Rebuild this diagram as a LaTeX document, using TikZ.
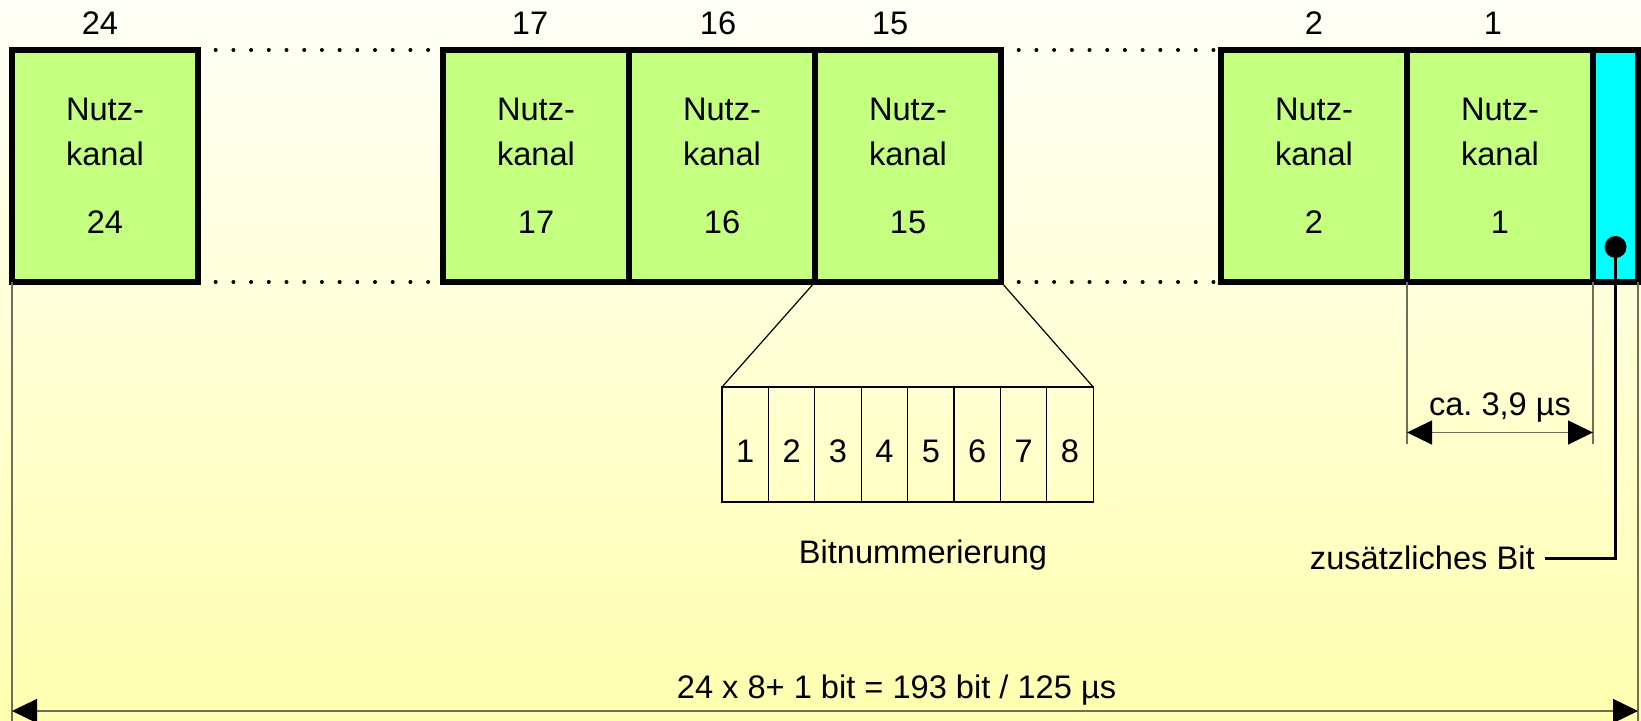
\documentclass[tikz,border=0pt]{standalone}
\usepackage{fontspec}
\setmainfont{Liberation Sans}
\usepackage{tikz}
\usetikzlibrary{arrows.meta, positioning}
\definecolor{kanalgreen}{HTML}{C4FF80}
\definecolor{bitcyan}{HTML}{00FFFF}
\definecolor{bgtop}{HTML}{FFFFF8}
\definecolor{bgbottom}{HTML}{FFFFB0}
\definecolor{dimgray}{HTML}{6E6E5A}
\frenchspacing

\begin{document}
\begin{tikzpicture}[
    x=0.5pt, y=-0.5pt,
    >={Triangle[length=12.5pt, width=12pt, color=black]},
    every node/.style={font=\fontsize{16.3}{22.5}\selectfont},
    kanal/.style={draw, line width=2.6pt, fill=kanalgreen, outer sep=0pt,
                  minimum width=93pt, minimum height=116pt, align=center},
    nr/.style={inner sep=0pt, anchor=base},
    bitbox/.style={draw, line width=0.6pt, minimum width=23.2pt,
                   minimum height=57.5pt, text height=18pt, text depth=0pt,
                   inner sep=0pt, outer sep=0pt},
    dots/.style={line width=2pt, line cap=round,
                 dash pattern=on 0pt off 8.85pt},
    dimline/.style={draw=dimgray, line width=0.6pt}
  ]
    % background
    \shade[top color=bgtop, bottom color=bgbottom] (0,0) rectangle (1641,721);
    \useasboundingbox (0,0) rectangle (1641,721);

    % channel frame
    \node[kanal] (k24) at (105,166)  {Nutz-\\kanal\\[11.5pt]24};
    \node[kanal] (k17) at (536,166)  {Nutz-\\kanal\\[11.5pt]17};
    \node[kanal] (k16) at (722,166)  {Nutz-\\kanal\\[11.5pt]16};
    \node[kanal] (k15) at (908,166)  {Nutz-\\kanal\\[11.5pt]15};
    \node[kanal] (k2)  at (1314,166) {Nutz-\\kanal\\[11.5pt]2};
    \node[kanal] (k1)  at (1500,166) {Nutz-\\kanal\\[11.5pt]1};
    \node[kanal, fill=bitcyan, minimum width=22.5pt] (zb) at (1615.5,166) {};

    \node[nr] (n24) at ([xshift=-2.5pt, yshift=7.5pt]k24.north) {24};
    \node[nr] (n17) at ([xshift=-3pt, yshift=7.5pt]k17.north) {17};
    \node[nr] (n16) at ([xshift=-2pt, yshift=7.5pt]k16.north) {16};
    \node[nr] (n15) at ([xshift=-9pt, yshift=7.5pt]k15.north) {15};
    \node[nr] (n2)  at ([yshift=7.5pt]k2.north) {2};
    \node[nr] (n1)  at ([xshift=-3.5pt, yshift=7.5pt]k1.north) {1};

    \draw[dots] (k24.north east) -- (k17.north west);
    \draw[dots] (k24.south east) -- (k17.south west);
    \draw[dots] (k15.north east) -- (k2.north west);
    \draw[dots] (k15.south east) -- (k2.south west);

    % bits of one channel
    \foreach \i in {1,...,8}
      \node[bitbox] (b\i) at ({722+46.4*(\i-0.5)},444.5) {\i};
    \draw[line width=0.6pt] (k15.south west) -- (b1.north west);
    \draw[line width=0.6pt] (k15.south east) -- (b8.north east);
    \node[nr] (bnr) at (923,563) {Bitnummerierung};

    % dimensions
    \coordinate (bot) at (0,721);
    \coordinate (framey) at (0,711);
    \coordinate (dimy) at (0,432.5);
    \coordinate (dimend) at (0,444);
    \draw[dimline] (k24.south west) -- (k24.south west |- bot);
    \draw[dimline] (zb.south east) -- (zb.south east |- bot);
    \draw[dimline] (k1.south west) -- (k1.south west |- dimend);
    \draw[dimline] (k1.south east) -- (k1.south east |- dimend);
    \draw[dimline, <->] (k1.south west |- dimy) -- (k1.south east |- dimy)
      node[nr, midway, yshift=8.5pt] {ca. 3,9 µs};
    \draw[dimline, <->] (k24.south west |- framey) -- (zb.south east |- framey)
      node[nr, pos=0.544, yshift=6.5pt] {24 x 8+ 1 bit = 193 bit / 125 µs};

    % extra framing bit
    \coordinate (zp) at ([yshift=-40.5pt]zb.center);
    \node[anchor=east, inner sep=5pt] (zt) at (1545,558) {zusätzliches Bit};
    \draw[line width=1.5pt] (zp) |- (zt.east);
    \fill (zp) circle (5.5pt);
\end{tikzpicture}
\end{document}
